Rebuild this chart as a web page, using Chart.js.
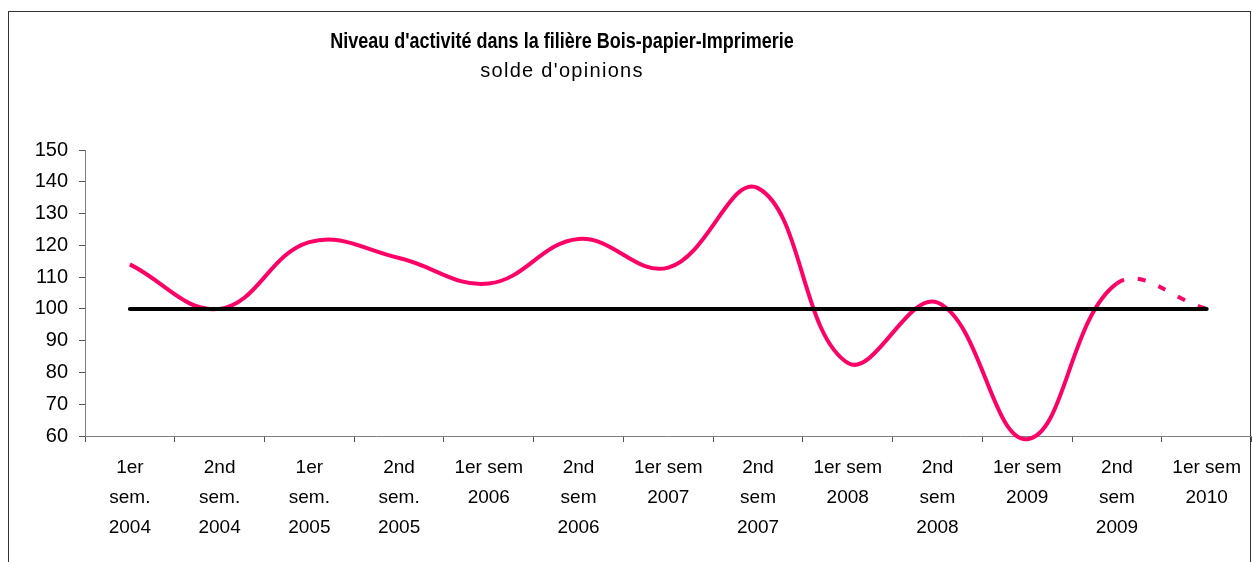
<!DOCTYPE html>
<html>
<head>
<meta charset="utf-8">
<script src="https://cdn.jsdelivr.net/npm/chart.js@4/dist/chart.umd.min.js"></script>
<style>
  html, body { margin: 0; padding: 0; background: #fff; }
  #wrap { width: 1252px; height: 562px; }
</style>
</head>
<body>
<div id="wrap"><canvas id="activiteChart" width="1252" height="562"></canvas></div>
<script>
// DATA
let chartTitle = "Niveau d'activité dans la filière Bois-papier-Imprimerie";
let chartSubtitle = "solde d'opinions";
let semestres = [
    ['1er', 'sem.', '2004'],
    ['2nd', 'sem.', '2004'],
    ['1er', 'sem.', '2005'],
    ['2nd', 'sem.', '2005'],
    ['1er sem', '2006'],
    ['2nd', 'sem', '2006'],
    ['1er sem', '2007'],
    ['2nd', 'sem', '2007'],
    ['1er sem', '2008'],
    ['2nd', 'sem', '2008'],
    ['1er sem', '2009'],
    ['2nd', 'sem', '2009'],
    ['1er sem', '2010']
];
let niveauActivite = [114, 100, 121, 116, 108, 122, 113, 138, 83, 102, 59, 108, 100];
let niveauReference = [100, 100, 100, 100, 100, 100, 100, 100, 100, 100, 100, 100, 100];
// last segment (2nd sem 2009 -> 1er sem 2010) is a forecast, drawn dashed
let debutPrevision = 11;

let fontFamily = '"Liberation Sans", Arial, sans-serif';

// frame + titles drawn on the canvas
let cadrePlugin = {
    id: 'cadre',
    beforeDraw(chart) {
        let ctx = chart.ctx;
        ctx.save();
        ctx.strokeStyle = '#333';
        ctx.lineWidth = 1;
        ctx.strokeRect(8.5, 11.5, 1242, 620);
        ctx.restore();
    },
    afterDraw(chart) {
        let ctx = chart.ctx;
        ctx.save();
        ctx.fillStyle = '#000';
        ctx.textAlign = 'center';
        ctx.textBaseline = 'alphabetic';
        // title font in the original is taller than it is wide
        ctx.save();
        ctx.translate(562, 48);
        ctx.scale(1, 1.2);
        ctx.font = 'bold 18px ' + fontFamily;
        ctx.fillText(chartTitle, 0, 0);
        ctx.restore();
        ctx.font = '20px ' + fontFamily;
        ctx.letterSpacing = '1.3px';
        ctx.fillText(chartSubtitle, 562, 77);
        ctx.restore();
    }
};

let activiteCtx = document.getElementById('activiteChart').getContext('2d');
let activiteChart = new Chart(activiteCtx, {
    type: 'line',
    data: {
        labels: semestres,
        datasets: [{
            label: 'référence',
            data: niveauReference,
            borderColor: '#000',
            borderWidth: 4,
            borderCapStyle: 'round',
            pointRadius: 0,
            tension: 0,
            clip: false
        }, {
            label: "niveau d'activité",
            data: niveauActivite,
            borderColor: 'rgb(255, 0, 102)',
            borderWidth: 4,
            pointRadius: 0,
            tension: 0.4,
            clip: false,
            segment: {
                borderDash: c => c.p0DataIndex >= debutPrevision ? [8, 14] : undefined
            }
        }]
    },
    options: {
        responsive: false,
        animation: false,
        devicePixelRatio: 1,
        layout: { padding: { top: 150, left: 0, right: 0, bottom: 0 } },
        plugins: {
            legend: { display: false },
            title: { display: false },
            tooltip: { enabled: false }
        },
        scales: {
            x: {
                type: 'category',
                offset: true,
                grid: {
                    offset: true,
                    drawOnChartArea: false,
                    drawTicks: true,
                    tickLength: 6,
                    color: '#555'
                },
                border: { color: '#808080', width: 1 },
                ticks: {
                    autoSkip: false,
                    maxRotation: 0,
                    minRotation: 0,
                    padding: 11,
                    color: '#000',
                    font: { family: fontFamily, size: 19, lineHeight: '30px' }
                },
                afterFit: s => { s.height = 126; }
            },
            y: {
                min: 60,
                max: 150,
                grid: {
                    drawOnChartArea: false,
                    drawTicks: true,
                    tickLength: 6,
                    color: '#555'
                },
                border: { color: '#808080', width: 1 },
                ticks: {
                    stepSize: 10,
                    padding: 11,
                    color: '#000',
                    font: { family: fontFamily, size: 20 }
                },
                afterFit: s => { s.width = 85; }
            }
        }
    },
    plugins: [cadrePlugin]
});
</script>
</body>
</html>
